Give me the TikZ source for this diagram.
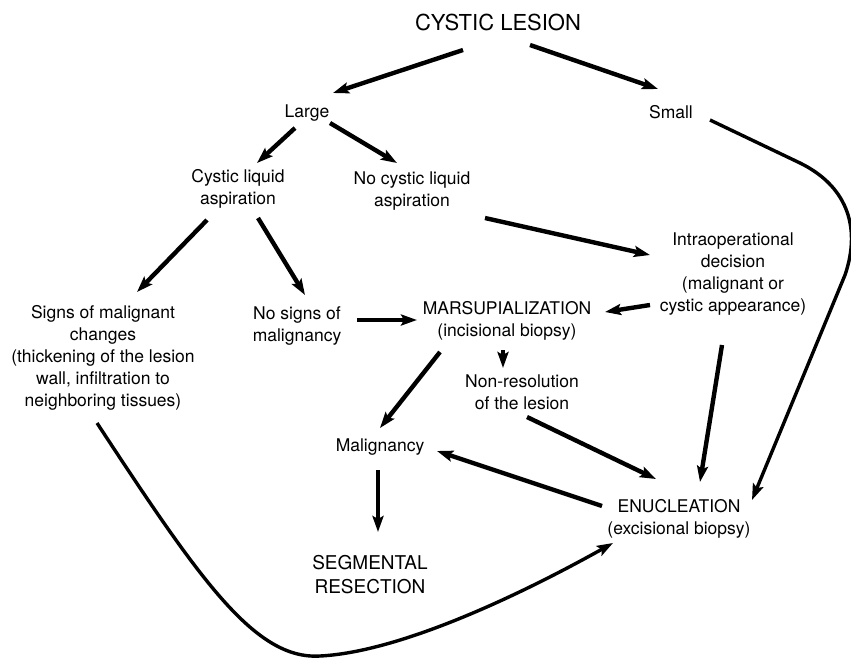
\documentclass[tikz,border=0pt]{standalone}
\usepackage{fontspec}
\setmainfont{TeX Gyre Heros}
\usetikzlibrary{arrows.meta}
\begin{document}
\begin{tikzpicture}[x=1pt,y=-1pt,
  lbl/.style={align=center, inner sep=0pt, text=black, font=\fontsize{17.5}{22}\selectfont},
  big/.style={align=center, inner sep=0pt, text=black, font=\fontsize{22}{26}\selectfont},
  mid/.style={align=center, inner sep=0pt, text=black, font=\fontsize{19}{24}\selectfont},
  arr/.style={line width=4.4pt, -{Stealth[length=16pt,width=11pt,inset=3pt]}},
  carr/.style={line width=3.4pt, -{Stealth[length=16pt,width=11pt,inset=3pt]}},
]
\useasboundingbox (0,0) rectangle (851,659);
\node[big] (cl) at (498,22) {CYSTIC LESION};
\node[lbl] (large) at (307,113) {Large};
\node[lbl] (small) at (671,112) {Small};
\node[lbl] (cla) at (238,189) {Cystic liquid\\aspiration};
\node[lbl] (ncla) at (412,191) {No cystic liquid\\aspiration};
\node[lbl] (intra) at (733,274) {Intraoperational\\decision\\(malignant or\\cystic appearance)};
\node[lbl] (mars) at (507,321) {MARSUPIALIZATION\\(incisional biopsy)};
\node[lbl] (nosigns) at (297,326) {No signs of\\malignancy};
\node[lbl] (signs) at (103,358) {Signs of malignant\\changes\\(thickening of the lesion\\wall, infiltration to\\neighboring tissues)};
\node[lbl] (nonres) at (522,392) {Non-resolution\\of the lesion};
\node[lbl] (malig) at (380,447) {Malignancy};
\node[mid] (seg) at (370,575) {SEGMENTAL\\RESECTION};
\node[lbl] (enuc) at (679,519) {ENUCLEATION\\(excisional biopsy)};

\draw[arr] ([shift={(-35,28)}]cl.center) -- ([shift={(26,-20)}]large.center);
\draw[arr] ([shift={(32,23)}]cl.center) -- ([shift={(-13,-23)}]small.center);
\draw[arr] ([shift={(-12,15)}]large.center) -- ([shift={(19,-26)}]cla.center);
\draw[arr] ([shift={(23,10)}]large.center) -- ([shift={(-15,-28)}]ncla.center);
\draw[arr] ([shift={(-31,31)}]cla.center) -- ([shift={(34,-66)}]signs.center);
\draw[arr] ([shift={(20,29)}]cla.center) -- ([shift={(8,-31)}]nosigns.center);
\draw[arr] ([shift={(73,27)}]ncla.center) -- ([shift={(-83,-19)}]intra.center);
\draw[arr] ([shift={(-83,31)}]intra.center) -- ([shift={(98,-9)}]mars.center);
\draw[arr] ([shift={(60,-6)}]nosigns.center) -- ([shift={(-90,-1)}]mars.center);
\draw[arr] ([shift={(-4,29)}]mars.center) -- ([shift={(-19,-24)}]nonres.center);
\draw[arr] ([shift={(-67,31)}]mars.center) -- ([shift={(0,-19)}]malig.center);
\draw[arr] ([shift={(5,25)}]nonres.center) -- ([shift={(-23,-40)}]enuc.center);
\draw[arr] ([shift={(-11,71)}]intra.center) -- ([shift={(21,-37)}]enuc.center);
\draw[arr] ([shift={(-77,-13)}]enuc.center) -- ([shift={(57,4)}]malig.center);
\draw[arr] ([shift={(-2,23)}]malig.center) -- ([shift={(8,-43)}]seg.center);

\draw[carr] ([shift={(39,8)}]small.center) -- (800,163) .. controls (845,185) and (862,225) .. (845,275) -- ([shift={(73,-19)}]enuc.center);
\draw[carr] ([shift={(-6,65)}]signs.center) .. controls (200,580) and (255,660) .. (320,656) .. controls (400,652) and (520,595) .. ([shift={(-66,24)}]enuc.center);
\end{tikzpicture}
\end{document}
